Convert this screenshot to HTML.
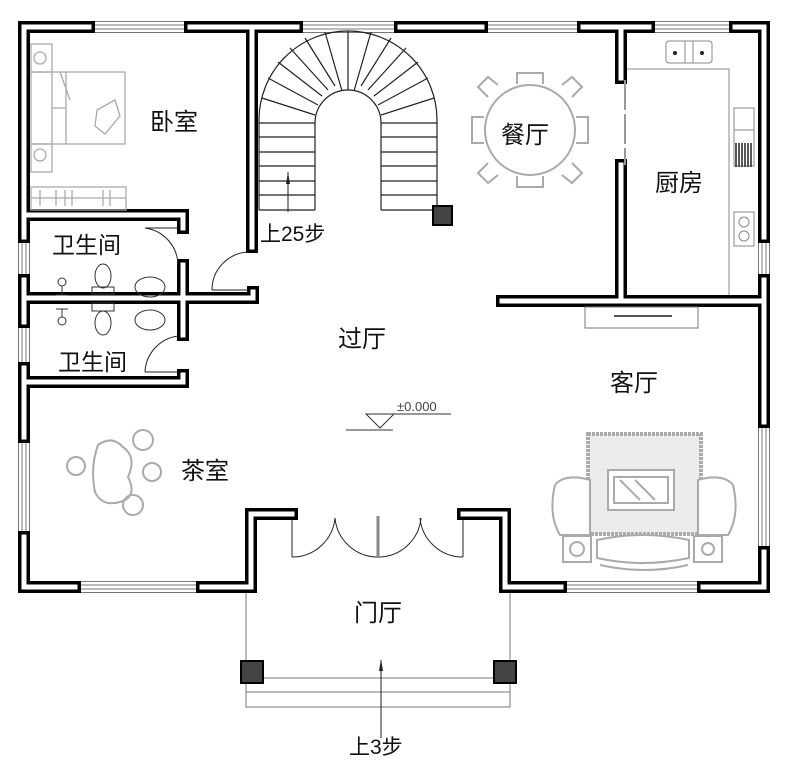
<!DOCTYPE html>
<html><head><meta charset="utf-8"><style>
html,body{margin:0;padding:0;background:#fff;}
svg{display:block;}
text{font-family:"Liberation Sans","Noto Sans CJK SC",sans-serif;fill:#111;}
</style></head><body>
<svg width="789" height="768" viewBox="0 0 789 768" xmlns="http://www.w3.org/2000/svg">
<defs>
<g id="walls">
<path d="M89,27 H24 V237"/>
<path d="M190,27 H297"/>
<path d="M252,27 V247"/>
<path d="M400,27 H482"/>
<path d="M583,27 H649"/>
<path d="M621,27 V78"/>
<path d="M735,27 H764 V237"/>
<path d="M764,280 V422"/>
<path d="M764,552 V587 H703"/>
<path d="M561,587 H505 V514 H463"/>
<path d="M292,514 H251 V587 H202"/>
<path d="M75,587 H24 V537"/>
<path d="M24,437 V368"/>
<path d="M24,322 V280"/>
<path d="M24,215 H183 V228"/>
<path d="M24,298 H253 V292"/>
<path d="M183,265 V335"/>
<path d="M24,382 H183 V375"/>
<path d="M621,165 V301"/>
<path d="M502,301 H764"/>
</g>
</defs>
<g stroke="#777" stroke-width="1" fill="none">
<path d="M89,21.5H190M89,25H190M89,29H190M89,32.5H190"/>
<path d="M297,21.5H400M297,25H400M297,29H400M297,32.5H400"/>
<path d="M482,21.5H583M482,25H583M482,29H583M482,32.5H583"/>
<path d="M649,21.5H735M649,25H735M649,29H735M649,32.5H735"/>
<path d="M758.5,237V280M762,237V280M766,237V280M769.5,237V280"/>
<path d="M758.5,422V552M762,422V552M766,422V552M769.5,422V552"/>
<path d="M561,581.5H703M561,585H703M561,589H703M561,592.5H703"/>
<path d="M75,581.5H202M75,585H202M75,589H202M75,592.5H202"/>
<path d="M18.5,237V280M22,237V280M26,237V280M29.5,237V280"/>
<path d="M18.5,322V368M22,322V368M26,322V368M29.5,322V368"/>
<path d="M18.5,437V537M22,437V537M26,437V537M29.5,437V537"/>
</g>
<use href="#walls" stroke="#000" stroke-width="12" stroke-linecap="square" stroke-linejoin="miter" fill="none"/>
<use href="#walls" stroke="#fff" stroke-width="5" stroke-linecap="square" stroke-linejoin="miter" fill="none"/>

<g stroke="#222" stroke-width="1" fill="none">
<path d="M212,290 H248 M212,290 A38,38 0 0 1 248,252"/>
<path d="M145,228 A38,38 0 0 1 178,265 M145,228 H178"/>
<path d="M145,372 A38,38 0 0 1 178,336 M145,372 H178"/>
<path d="M292,520 V557 M292,557 A43,43 0 0 0 335,518"/>
<path d="M463,520 V557 M463,557 A43,43 0 0 1 420,518"/>
<path d="M378,557 A43,43 0 0 1 335,518 M378,557 A43,43 0 0 0 421,518"/>
</g>
<line x1="378" y1="516" x2="378" y2="557" stroke="#888" stroke-width="3"/>
<path d="M625,80 V165" stroke="#999" stroke-width="2" stroke-dasharray="30,4"/>

<g stroke="#222" stroke-width="1.2" fill="none">
<path d="M259,120 A89,89 0 0 1 437,120 V210"/>
<path d="M315,210 V123 A33,33 0 0 1 381,123 V210"/>
<path d="M259,120 V210"/>
<path d="M259,137H315M259,152H315M259,166H315M259,181H315M259,195H315M259,210H315"/>
<path d="M381,137H437M381,152H437M381,166H437M381,181H437M381,195H437M381,210H437"/>
<path d="M259,123H315M381,123H437"/>
<path d="M315,115 L262,98"/><path d="M318,105 L268,78"/><path d="M322,96 L278,62"/><path d="M328,90 L290,48"/><path d="M335,86 L305,38"/><path d="M342,91 L325,32"/><path d="M348,90 L348,31"/>
<path d="M381,115 L434,98"/><path d="M378,105 L428,78"/><path d="M374,96 L418,62"/><path d="M368,90 L406,48"/><path d="M361,86 L391,38"/><path d="M354,91 L371,32"/>
</g>
<rect x="433" y="206" width="19" height="19" fill="#444" stroke="#000" stroke-width="2"/>
<path d="M288,212 V172" stroke="#222" stroke-width="1"/>
<path d="M288,172 l-2,12 h4z" fill="#222"/>

<g stroke="#aaa" stroke-width="1.3" fill="none">
<rect x="31" y="44" width="21" height="28"/><circle cx="40" cy="58" r="6"/>
<rect x="31" y="144" width="21" height="28"/><circle cx="40" cy="155" r="6"/>
<rect x="31" y="72" width="94" height="72"/><path d="M52,72 V144 M66,72 V144 M52,108 H66 M60,72 L70,100"/>
<path d="M97,110 l18,-10 l5,16 l-15,18 l-10,-8z"/>
<rect x="31" y="187" width="95" height="23"/><path d="M31,198H126 M40,190v16 M56,190v16 M65,190v16 M72,190v16 M103,190v16 M110,190v16"/>
</g>
<g stroke="#333" stroke-width="1" fill="none">
<ellipse cx="103" cy="276" rx="8" ry="12"/><rect x="92" y="287" width="22" height="7"/>
<rect x="92" y="303" width="22" height="8"/><ellipse cx="103" cy="323" rx="8" ry="12"/>
<ellipse cx="150" cy="287" rx="15" ry="10"/><ellipse cx="150" cy="320" rx="15" ry="10"/>
<circle cx="62" cy="282" r="4"/><path d="M62,286 V295 M56,295 H68"/>
<circle cx="62" cy="321" r="4"/><path d="M62,317 V309 M56,309 H68"/>
</g>
<g stroke="#aaa" stroke-width="2" fill="none">
<circle cx="530" cy="130" r="45"/>
<path d="M517,84 V73 H543 V84"/><path d="M517,176 V187 H543 V176"/>
<path d="M484,117 H472 V143 H484"/><path d="M576,117 H588 V143 H576"/>
<path d="M488,97 l-10,-10 l10,-10 l10,8"/><path d="M572,97 l10,-10 l-10,-10 l-10,8"/>
<path d="M488,163 l-10,10 l10,10 l10,-8"/><path d="M572,163 l10,10 l-10,10 l-10,-8"/>
</g>
<g stroke="#888" stroke-width="1" fill="none">
<path d="M627,69 H729 V295"/>
<rect x="666" y="41" width="46" height="22" rx="3"/><path d="M685,41V63 M693,41V63"/>
<rect x="734" y="108" width="20" height="58"/><path d="M734,130H754"/>
<rect x="734" y="212" width="20" height="34"/><circle cx="744" cy="222" r="5"/><circle cx="744" cy="236" r="5"/>
</g>
<path d="M736,143v24 M739,143v24 M742,143v24 M745,143v24 M748,143v24 M751,143v24" stroke="#222" stroke-width="1.5"/>
<circle cx="675" cy="53" r="2" fill="#222"/><circle cx="702" cy="53" r="2" fill="#222"/>
<rect x="585" y="307" width="113" height="21" fill="none" stroke="#777" stroke-width="1"/>
<path d="M614,316 H672" stroke="#555" stroke-width="2"/>

<rect x="588" y="434" width="113" height="100" fill="#ececec" stroke="#aaa" stroke-width="4" stroke-dasharray="3,1"/>
<g stroke="#aaa" stroke-width="2" fill="none">
<rect x="608" y="470" width="66" height="40" fill="#fff"/><rect x="614" y="477" width="54" height="26"/>
<path d="M620,480 L640,500 M635,480 L655,500"/>
<path d="M555,485 q10,-12 35,-5 v55 h-30 q-12,-20 -5,-50z" fill="#fff"/>
<path d="M733,485 q-10,-12 -35,-5 v55 h30 q12,-20 5,-50z" fill="#fff"/>
<rect x="563" y="536" width="28" height="26" fill="#fff"/><circle cx="577" cy="549" r="7"/>
<rect x="694" y="536" width="28" height="26" fill="#fff"/><circle cx="708" cy="549" r="6"/>
<path d="M597,540 q45,-10 92,0 v18 q-46,10 -92,0z" fill="#fff"/><path d="M600,565 q45,10 88,0"/>
</g>
<g stroke="#aaa" stroke-width="2" fill="none">
<path d="M98,445 q14,-10 25,2 q14,10 5,30 q10,20 -8,25 q-18,5 -25,-10 q-5,-25 3,-47z"/>
<circle cx="76" cy="466" r="9"/><circle cx="143" cy="440" r="10"/>
<circle cx="152" cy="472" r="9"/><circle cx="133" cy="505" r="10"/>
</g>

<g stroke="#333" stroke-width="1" fill="none">
<path d="M394,414 H451"/><path d="M366,414 L394,414 L380,428 Z"/><path d="M346,430 H393"/>
</g>
<text x="397" y="411" font-size="13" style="fill:#444">±0.000</text>

<g stroke="#777" stroke-width="1" fill="none">
<path d="M246,593 V707 H510 V593"/>
<path d="M246,692 H510"/><path d="M264,678 H493"/>
</g>
<rect x="241" y="661" width="22" height="22" fill="#444" stroke="#000" stroke-width="2"/>
<rect x="494" y="661" width="22" height="22" fill="#444" stroke="#000" stroke-width="2"/>
<path d="M381,738 V660" stroke="#222" stroke-width="1"/>
<path d="M381,659 l-2,12 h4z" fill="#222"/>

<g font-size="24">
<text x="150" y="130">卧室</text>
<text x="52" y="253" font-size="23">卫生间</text>
<text x="58" y="370" font-size="23">卫生间</text>
<text x="338" y="347">过厅</text>
<text x="501" y="143">餐厅</text>
<text x="655" y="191">厨房</text>
<text x="610" y="391">客厅</text>
<text x="181" y="479">茶室</text>
<text x="354" y="621">门厅</text>
</g>
<text x="260" y="241" font-size="21">上25步</text>
<text x="349" y="754" font-size="21">上3步</text>
</svg>
</body></html>
